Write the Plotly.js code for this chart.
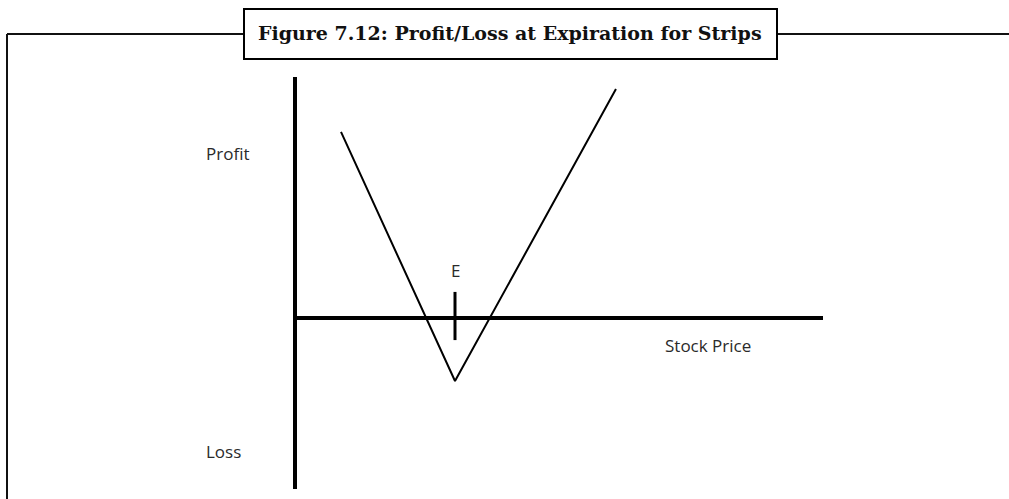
<!DOCTYPE html>
<html>
<head>
<meta charset="utf-8">
<script src="https://cdn.plot.ly/plotly-3.0.1.min.js"></script>
<style>html,body{margin:0;padding:0;background:#fff;}#chart{width:1009px;height:499px;}</style>
</head>
<body>
<div id="chart"></div>
<script>
// ---- data (stock price / profit units, E = 100) ----
const strikePrice = 100;
const payoffPrice = [28.75, 100, 200.6];
const payoffProfit = [116.3, -39.4, 143.1];
const priceAxisEnd = 330;
const profitAxisTop = 150.6;
const profitAxisBottom = -106.9;
const strikeTickTop = 16.3;
const strikeTickBottom = -13.8;
const titleText = "Figure 7.12: Profit/Loss at Expiration for Strips";
const labelProfit = "Profit";
const labelLoss = "Loss";
const labelStock = "Stock Price";
const labelStrike = "E";

// ---- layout helpers (pixel -> paper) ----
const W = 1009, H = 499;
const px = x => x / W;
const py = y => 1 - y / H;

const traces = [
  {x: [0, 0], y: [profitAxisTop, profitAxisBottom], mode: 'lines', line: {color: '#000', width: 4}, hoverinfo: 'skip'},
  {x: [0, priceAxisEnd], y: [0, 0], mode: 'lines', line: {color: '#000', width: 4}, hoverinfo: 'skip'},
  {x: [strikePrice, strikePrice], y: [strikeTickTop, strikeTickBottom], mode: 'lines', line: {color: '#000', width: 3}, hoverinfo: 'skip'},
  {x: payoffPrice, y: payoffProfit, mode: 'lines', line: {color: '#000', width: 2}, hoverinfo: 'skip'}
];

const labelFont = {family: '"Open Sans", sans-serif', size: 17, color: '#2a2a2a'};

const layout = {
  width: W, height: H,
  margin: {l: 0, r: 0, t: 0, b: 0},
  paper_bgcolor: '#fff', plot_bgcolor: '#fff',
  showlegend: false,
  xaxis: {range: [-184.375, 446.25], visible: false, fixedrange: true},
  yaxis: {range: [-113.125, 198.75], visible: false, fixedrange: true},
  shapes: [
    {type: 'line', xref: 'paper', yref: 'paper', x0: px(7), x1: px(1009), y0: py(34), y1: py(34), line: {color: '#111', width: 2}},
    {type: 'line', xref: 'paper', yref: 'paper', x0: px(7), x1: px(7), y0: py(34), y1: py(499), line: {color: '#111', width: 2}},
    {type: 'rect', xref: 'paper', yref: 'paper', x0: px(244), x1: px(777), y0: py(9), y1: py(59), line: {color: '#000', width: 2}, fillcolor: '#fff', layer: 'above'}
  ],
  annotations: [
    {xref: 'paper', yref: 'paper', x: px(510), y: py(33), text: '<b>' + titleText + '</b>', showarrow: false,
     font: {family: '"DejaVu Serif", serif', size: 19, color: '#111'}, xanchor: 'center', yanchor: 'middle'},
    {xref: 'paper', yref: 'paper', x: px(204), y: py(153), text: labelProfit, showarrow: false, font: labelFont, xanchor: 'left', yanchor: 'middle'},
    {xref: 'paper', yref: 'paper', x: px(204), y: py(451), text: labelLoss, showarrow: false, font: labelFont, xanchor: 'left', yanchor: 'middle'},
    {xref: 'paper', yref: 'paper', x: px(663), y: py(345), text: labelStock, showarrow: false, font: labelFont, xanchor: 'left', yanchor: 'middle'},
    {xref: 'x', yref: 'paper', x: strikePrice, y: py(270), text: labelStrike, showarrow: false, font: labelFont, xanchor: 'center', yanchor: 'middle'}
  ]
};

Plotly.newPlot('chart', traces, layout, {staticPlot: true, displayModeBar: false});
</script>
</body>
</html>
